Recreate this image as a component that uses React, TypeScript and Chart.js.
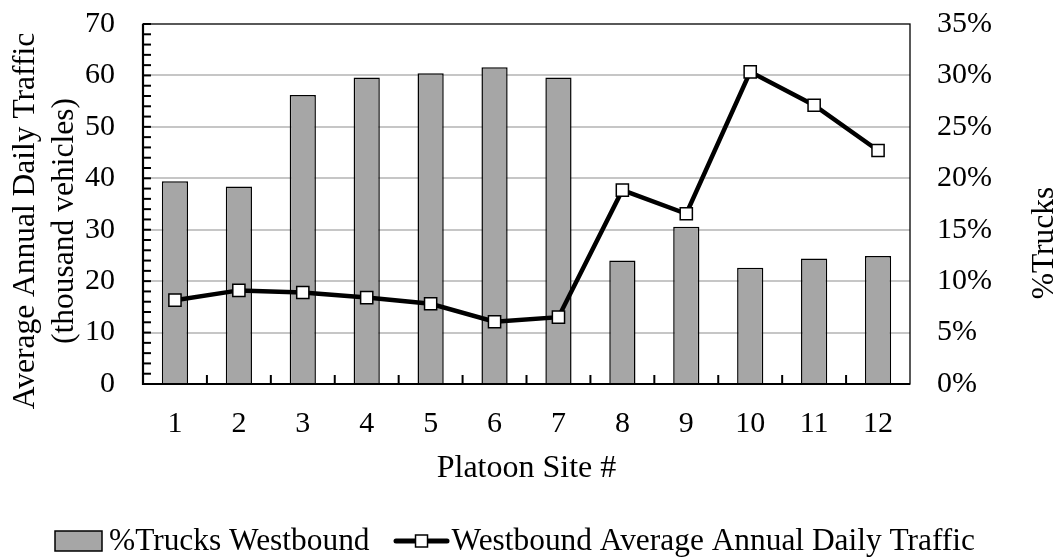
import React, { useEffect, useRef } from 'react';
import { Chart, registerables } from 'chart.js';

Chart.register(...registerables);

// ---- Data ----
const categories = ['1', '2', '3', '4', '5', '6', '7', '8', '9', '10', '11', '12'];
const truckPctWestbound = [19.7, 19.2, 28.1, 29.8, 30.2, 30.8, 29.8, 12.0, 15.3, 11.3, 12.2, 12.45];
const aadtWestbound = [16.3, 18.2, 17.8, 16.8, 15.6, 12.1, 13.0, 37.7, 33.1, 60.7, 54.2, 45.4];

const leftAxisMin = 0;
const leftAxisMax = 70;
const leftAxisStep = 10;
const leftMinorStep = 2;
const rightAxisMin = 0;
const rightAxisMax = 35;
const rightAxisStep = 5;

const barLabel = '%Trucks Westbound';
const lineLabel = 'Westbound Average Annual Daily Traffic';
const xTitle = 'Platoon Site #';
const leftTitle = ['Average Annual Daily Traffic', '(thousand vehicles)'];
const rightTitle = '%Trucks';

const FONT = '"Liberation Serif", "Times New Roman", Times, serif';
const BAR_COLOR = '#a6a6a6';

const decorPlugin = {
  id: 'decor',
  afterDatasetsDraw(chart: any) {
    const { ctx, chartArea: a, scales } = chart;
    const y = scales.y;
    const x = scales.x;
    ctx.save();
    ctx.strokeStyle = '#000';
    ctx.lineWidth = 2;
    for (let v = leftAxisMin; v <= leftAxisMax; v += leftMinorStep) {
      const py = y.getPixelForValue(v);
      ctx.beginPath();
      ctx.moveTo(a.left, py);
      ctx.lineTo(a.left + 8, py);
      ctx.stroke();
    }
    for (let i = 0; i < categories.length - 1; i++) {
      const px = (x.getPixelForValue(i) + x.getPixelForValue(i + 1)) / 2;
      ctx.beginPath();
      ctx.moveTo(px, a.bottom);
      ctx.lineTo(px, a.bottom - 9);
      ctx.stroke();
    }
    ctx.lineWidth = 1.3;
    ctx.strokeRect(a.left, a.top, a.right - a.left, a.bottom - a.top);
    ctx.lineWidth = 2.2;
    ctx.beginPath();
    ctx.moveTo(a.left, a.top);
    ctx.lineTo(a.left, a.bottom);
    ctx.lineTo(a.right, a.bottom);
    ctx.stroke();
    ctx.restore();
  },
  afterDraw(chart: any) {
    const { ctx, chartArea: a } = chart;
    ctx.save();
    ctx.fillStyle = '#000';
    ctx.textBaseline = 'alphabetic';
    ctx.textAlign = 'center';

    // x title
    ctx.font = `32px ${FONT}`;
    ctx.fillText(xTitle, (a.left + a.right) / 2, 477);

    // left title (rotated)
    ctx.font = `31.5px ${FONT}`;
    const leftCenterY = 221;
    ctx.save();
    ctx.translate(34, leftCenterY);
    ctx.rotate(-Math.PI / 2);
    ctx.fillText(leftTitle[0], 0, 0);
    ctx.restore();
    ctx.save();
    ctx.translate(73, leftCenterY);
    ctx.rotate(-Math.PI / 2);
    ctx.fillText(leftTitle[1], 0, 0);
    ctx.restore();

    // right title
    ctx.save();
    ctx.translate(1053, 243);
    ctx.rotate(-Math.PI / 2);
    ctx.fillText(rightTitle, 0, 0);
    ctx.restore();

    // legend
    ctx.font = `31.4px ${FONT}`;
    ctx.textAlign = 'left';
    const boxW = 47;
    const boxH = 20;
    const gap1 = 7;
    const gap2 = 24;
    const lineW = 56;
    const gap3 = 2;
    let lx = 55;
    const baseY = 550;
    const midY = 541;
    ctx.fillStyle = BAR_COLOR;
    ctx.fillRect(lx, midY - boxH / 2, boxW, boxH);
    ctx.strokeStyle = '#000';
    ctx.lineWidth = 1.5;
    ctx.strokeRect(lx, midY - boxH / 2, boxW, boxH);
    lx += boxW + gap1;
    ctx.fillStyle = '#000';
    ctx.fillText(barLabel, lx, baseY);
    lx += ctx.measureText(barLabel).width + gap2;
    ctx.lineWidth = 5;
    ctx.lineCap = 'round';
    ctx.beginPath();
    ctx.moveTo(lx + 2.5, midY);
    ctx.lineTo(lx + lineW - 2.5, midY);
    ctx.stroke();
    const sq = 12;
    ctx.fillStyle = '#fff';
    ctx.lineWidth = 1.5;
    ctx.fillRect(lx + lineW / 2 - sq / 2, midY - sq / 2, sq, sq);
    ctx.strokeRect(lx + lineW / 2 - sq / 2, midY - sq / 2, sq, sq);
    lx += lineW + gap3;
    ctx.fillStyle = '#000';
    ctx.fillText(lineLabel, lx, baseY);
    ctx.restore();
  },
};

export default function App() {
  const canvasRef = useRef<HTMLCanvasElement | null>(null);

  useEffect(() => {
    document.body.style.margin = '0';
    const canvas = canvasRef.current;
    if (!canvas) return;
    const tickFont = { family: FONT, size: 30 };
    const noPad = (s: any) => {
      s.paddingTop = 0;
      s.paddingBottom = 0;
    };
    const chart = new Chart(canvas, {
      data: {
        labels: categories,
        datasets: [
          {
            type: 'line',
            label: lineLabel,
            data: aadtWestbound,
            yAxisID: 'y',
            borderColor: '#000',
            borderWidth: 4.5,
            pointStyle: 'rect',
            pointRadius: 8.6,
            pointBackgroundColor: '#fff',
            pointBorderColor: '#000',
            pointBorderWidth: 1.5,
            tension: 0,
            order: 0,
          } as any,
          {
            type: 'bar',
            label: barLabel,
            data: truckPctWestbound,
            yAxisID: 'y1',
            backgroundColor: BAR_COLOR,
            borderColor: '#000',
            borderWidth: 1.5,
            categoryPercentage: 1,
            barPercentage: 0.41,
            order: 1,
          } as any,
        ],
      },
      options: {
        animation: false,
        responsive: false,
        devicePixelRatio: 1,
        layout: { padding: { top: 24, left: 0, right: 0, bottom: 0 } },
        plugins: {
          legend: { display: false },
          tooltip: { enabled: false },
        },
        scales: {
          x: {
            type: 'category',
            grid: { display: false, drawTicks: false },
            border: { display: false },
            ticks: { font: tickFont, color: '#000', padding: 22, maxRotation: 0, autoSkip: false },
            afterFit: (s: any) => { s.height = 175; },
          },
          y: {
            type: 'linear',
            position: 'left',
            min: leftAxisMin,
            max: leftAxisMax,
            ticks: { stepSize: leftAxisStep, font: tickFont, color: '#000', padding: 28 },
            grid: {
              drawTicks: false,
              lineWidth: 2,
              color: (c: any) =>
                c.tick && (c.tick.value === leftAxisMin || c.tick.value === leftAxisMax)
                  ? 'rgba(0,0,0,0)'
                  : '#c6c6c6',
            },
            border: { display: false },
            afterFit: (s: any) => { s.width = 143; noPad(s); },
          },
          y1: {
            type: 'linear',
            position: 'right',
            min: rightAxisMin,
            max: rightAxisMax,
            ticks: {
              stepSize: rightAxisStep,
              font: tickFont,
              color: '#000',
              padding: 27,
              callback: (v: any) => `${v}%`,
            },
            grid: { display: false, drawTicks: false },
            border: { display: false },
            afterFit: (s: any) => { s.width = 149; noPad(s); },
          },
        },
      },
      plugins: [decorPlugin],
    } as any);
    return () => chart.destroy();
  }, []);

  return (
    <div style={{ width: 1059, height: 559 }}>
      <canvas ref={canvasRef} width={1059} height={559} style={{ display: 'block' }} />
    </div>
  );
}
